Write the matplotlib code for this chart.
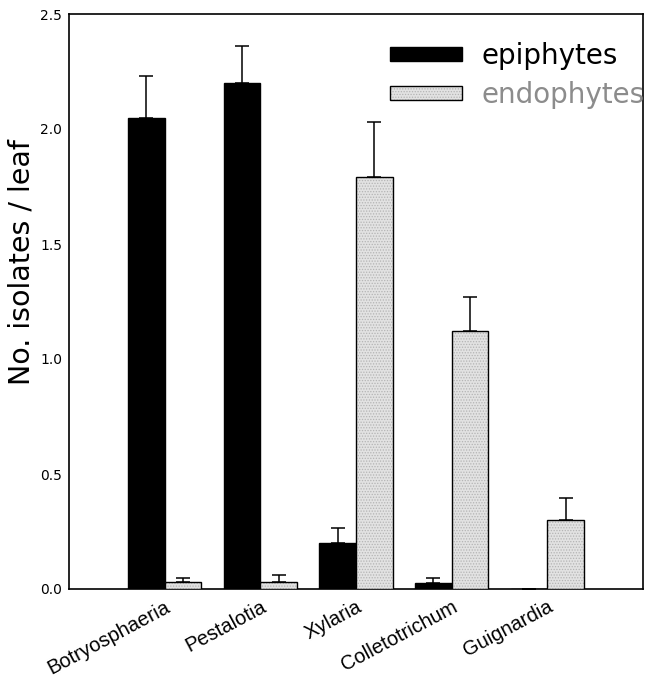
import matplotlib

matplotlib.use("Agg")

import matplotlib.pyplot as plt
import numpy as np
from matplotlib.patches import Patch

genera = ["Botryosphaeria", "Pestalotia", "Xylaria", "Colletotrichum", "Guignardia"]
epiphytes = [2.05, 2.20, 0.20, 0.025, 0.0]
epiphytes_err = [0.18, 0.16, 0.065, 0.022, 0.0]
endophytes = [0.03, 0.03, 1.79, 1.12, 0.30]
endophytes_err = [0.02, 0.03, 0.24, 0.15, 0.095]

ENDO_FILL = "#e2e2e2"
ENDO_DOTS = "#b4b4b4"
LABEL_GRAY = "#8c8c8c"

plt.rcParams["hatch.linewidth"] = 0.6

fig = plt.figure(figsize=(6.58, 6.80), dpi=100)
ax = fig.add_axes([69 / 658, 1 - 589 / 680, (643 - 69) / 658, (589 - 14) / 680])

x = np.arange(len(genera))
w = 0.385
err_kw = dict(ecolor="black", elinewidth=1.1, capsize=5, capthick=1.1)

ax.bar(x - w / 2, epiphytes, w, color="black", edgecolor="black", linewidth=1.0,
       yerr=[np.zeros(len(x)), epiphytes_err], error_kw=err_kw, zorder=3)
# endophytes: light grey fill with a fine dot pattern, then a black outline
ax.bar(x + w / 2, endophytes, w, color=ENDO_FILL, edgecolor=ENDO_DOTS, linewidth=0,
       hatch="......", zorder=3)
ax.bar(x + w / 2, endophytes, w, color="none", edgecolor="black", linewidth=1.0,
       yerr=[np.zeros(len(x)), endophytes_err], error_kw=err_kw, zorder=4)

ax.set_xlim(-1, 5)
ax.set_ylim(0, 2.5)
ax.set_yticks([0.0, 0.5, 1.0, 1.5, 2.0, 2.5])
ax.set_yticklabels(["0.0", "0.5", "1.0", "1.5", "2.0", "2.5"], fontsize=10)
ax.set_xticks(x)
ax.set_xticklabels(genera, fontsize=14.5, family=["Liberation Sans", "DejaVu Sans"],
                   rotation=28, ha="right", va="top", rotation_mode="anchor")
ax.tick_params(axis="both", length=0)
ax.tick_params(axis="y", pad=5)
ax.tick_params(axis="x", pad=6)
ax.set_ylabel("No. isolates / leaf", fontsize=20.5, labelpad=3, y=0.569)

for s in ax.spines.values():
    s.set_linewidth(1.2)

h_epi = Patch(facecolor="black", edgecolor="black", linewidth=1.0)
h_endo = (Patch(facecolor=ENDO_FILL, edgecolor=ENDO_DOTS, linewidth=0, hatch="......"),
          Patch(facecolor="none", edgecolor="black", linewidth=1.0))
ax.legend([h_epi, h_endo], ["epiphytes", "endophytes"], loc="upper left",
          bbox_to_anchor=(390 / 658, 1 - 42 / 680), bbox_transform=fig.transFigure,
          frameon=False, fontsize=20, handlelength=2.6, handleheight=0.43,
          handletextpad=0.7, labelspacing=0.4, borderpad=0, borderaxespad=0,
          labelcolor=["black", LABEL_GRAY])

fig.savefig("out.png", dpi=100, facecolor="white")
